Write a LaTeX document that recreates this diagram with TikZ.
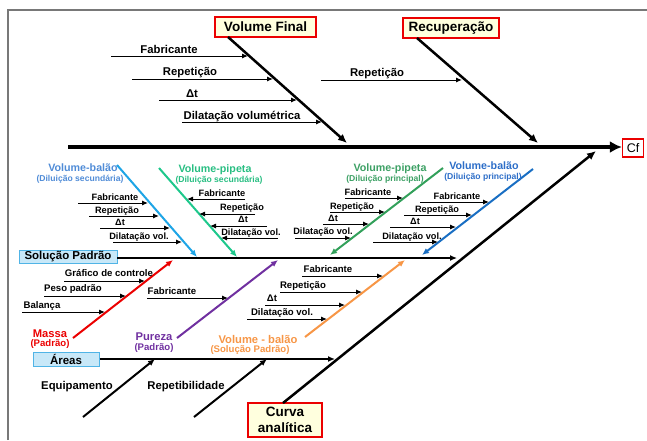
\documentclass[tikz,border=0pt]{standalone}
\usepackage{fontspec}
\setmainfont{Liberation Sans}
\usetikzlibrary{arrows.meta}
\definecolor{cred}{RGB}{235,0,0}
\definecolor{cyel}{RGB}{255,255,222}
\definecolor{cbfill}{RGB}{200,232,248}
\definecolor{cbdraw}{RGB}{80,180,230}
\definecolor{cpur}{RGB}{112,48,160}
\definecolor{corg}{RGB}{247,150,70}
\definecolor{ccyl}{RGB}{30,165,230}
\definecolor{ccyt}{RGB}{80,140,215}
\definecolor{ctel}{RGB}{30,200,140}
\definecolor{ctet}{RGB}{40,190,130}
\definecolor{cgrl}{RGB}{50,160,90}
\definecolor{cgrt}{RGB}{60,160,100}
\definecolor{cbll}{RGB}{25,110,195}
\definecolor{cblt}{RGB}{45,110,200}
\definecolor{cframe}{RGB}{120,120,120}
\tikzset{
  ybox/.style={draw=cred, line width=1.8pt, fill=cyel, font=\bfseries\fontsize{13.5}{15.5}\selectfont, inner sep=1pt, align=center},
  bbox/.style={draw=cbdraw, line width=1pt, fill=cbfill, font=\bfseries\fontsize{11.5}{13}\selectfont, inner sep=0pt},
  bone/.style={line width=2.5pt, -{Latex[length=9pt,width=8pt]}},
  cbone/.style={line width=2pt, -{Latex[length=7pt,width=6pt]}},
  twig/.style={line width=1pt, -{Latex[length=6pt,width=5pt]}},
  tlbl/.style={font=\bfseries\fontsize{11.3}{13}\selectfont, inner sep=0pt, anchor=base},
  slbl/.style={font=\bfseries\fontsize{9.6}{11}\selectfont, inner sep=0pt, anchor=base},
  dlbl/.style={font=\bfseries\fontsize{9.2}{10}\selectfont, inner sep=0pt, anchor=base},
  ctitle/.style={font=\bfseries\fontsize{11.2}{13}\selectfont, inner sep=0pt, anchor=base},
  csub/.style={font=\bfseries\fontsize{9.6}{11}\selectfont, inner sep=0pt, anchor=base},
  dtitle/.style={font=\bfseries\fontsize{10.7}{12}\selectfont, inner sep=0pt, anchor=base},
  dsub/.style={font=\bfseries\fontsize{8.6}{10}\selectfont, inner sep=0pt, anchor=base}
}
\begin{document}
\begin{tikzpicture}[x=1pt,y=-1pt]
\useasboundingbox (0,0) rectangle (647,440);
% frame
\coordinate (fr1) at (8,440); \coordinate (fr2) at (8,10); \coordinate (fr3) at (647,10);
\draw[cframe, line width=1.3pt] (fr1) -- (fr2) -- (fr3);

% main spine
\node[draw=cred, line width=1.3pt, fill=white, minimum width=21pt, minimum height=18pt, inner sep=0pt, font=\fontsize{12.5}{14}\selectfont] (cf) at (633,148) {Cf};
\coordinate (spine0) at (68,147);
\draw[line width=4pt, -{Latex[length=12pt,width=12pt]}] (spine0) -- (spine0 -| cf.west);

% Volume Final
\node[ybox, minimum width=101pt, minimum height=20pt] (vf) at (265.5,27) {Volume Final};
\coordinate (vfA) at (228,37); \coordinate (vfB) at (347,143);
\draw[bone] (vfA) -- (vfB);
\coordinate (vf1s) at (111,56);  \coordinate (vf1e) at (248,56);
\coordinate (vf2s) at (132,79);  \coordinate (vf2e) at (273,79);
\coordinate (vf3s) at (159,100); \coordinate (vf3e) at (297,100);
\coordinate (vf4s) at (182,122); \coordinate (vf4e) at (322,122);
\draw[twig] (vf1s) -- (vf1e);
\draw[twig] (vf2s) -- (vf2e);
\draw[twig] (vf3s) -- (vf3e);
\draw[twig] (vf4s) -- (vf4e);
\node[tlbl] (vfl1) at (169,53) {Fabricante};
\node[tlbl] (vfl2) at (190,75.5) {Repetição};
\node[tlbl] (vfl3) at (192,97) {Δt};
\node[tlbl] (vfl4) at (242,119) {Dilatação volumétrica};

% Recuperacao
\node[ybox, minimum width=96pt, minimum height=20pt] (rec) at (451,28) {Recuperação};
\coordinate (recA) at (417,38); \coordinate (recB) at (538,143);
\draw[bone] (recA) -- (recB);
\coordinate (rec1s) at (321,80); \coordinate (rec1e) at (462,80);
\draw[twig] (rec1s) -- (rec1e);
\node[tlbl] (recl1) at (377,76.5) {Repetição};

% Curva analitica
\node[ybox, minimum width=74pt, minimum height=34pt] (ca) at (285,420) {Curva\\analítica};
\coordinate (caA) at (283,403); \coordinate (caB) at (596,151);
\draw[bone] (caA) -- (caB);

% Solucao Padrao
\node[bbox, minimum width=98pt, minimum height=13pt] (sp) at (68,256.5) {Solução Padrão};
\coordinate (spA) at (117,258); \coordinate (spB) at (457,258);
\draw[line width=1.3pt, -{Latex[length=7pt,width=6pt]}] (spA) -- (spB);

% Areas
\node[bbox, minimum width=66pt, minimum height=14pt] (ar) at (66,359) {Áreas};
\coordinate (arB) at (335,359);
\draw[line width=2pt, -{Latex[length=7pt,width=6pt]}] (ar.east) -- (arB);
\coordinate (eqA) at (83,417); \coordinate (eqB) at (155,359);
\draw[line width=2pt, -{Latex[length=7pt,width=6pt]}] (eqA) -- (eqB);
\coordinate (reA) at (194,417); \coordinate (reB) at (267,359);
\draw[line width=2pt, -{Latex[length=7pt,width=6pt]}] (reA) -- (reB);
\node[tlbl] (eql) at (77,389) {Equipamento};
\node[tlbl] (rel) at (186,389) {Repetibilidade};

% Massa
\coordinate (maA) at (73,338); \coordinate (maB) at (173,260);
\draw[cbone, cred] (maA) -- (maB);
\node[ctitle, text=cred] (mat) at (50,337) {Massa};
\node[csub, text=cred] (mas) at (50,346) {(Padrão)};
\coordinate (ma1s) at (64,281); \coordinate (ma1e) at (145,281);
\coordinate (ma2s) at (44,296); \coordinate (ma2e) at (126,296);
\coordinate (ma3s) at (22,312); \coordinate (ma3e) at (105,312);
\draw[twig] (ma1s) -- (ma1e);
\draw[twig] (ma2s) -- (ma2e);
\draw[twig] (ma3s) -- (ma3e);
\node[slbl] (mal1) at (109,276) {Gráfico de controle};
\node[slbl] (mal2) at (73,291.5) {Peso padrão};
\node[slbl] (mal3) at (42,308) {Balança};

% Pureza
\coordinate (puA) at (177,338); \coordinate (puB) at (278,260);
\draw[cbone, cpur] (puA) -- (puB);
\node[ctitle, text=cpur] (put) at (154,340) {Pureza};
\node[csub, text=cpur] (pus) at (154,350) {(Padrão)};
\coordinate (pu1s) at (147,298); \coordinate (pu1e) at (228,298);
\draw[twig] (pu1s) -- (pu1e);
\node[slbl] (pul1) at (172,294) {Fabricante};

% Volume - balao (Solucao Padrao)
\coordinate (orA) at (305,337); \coordinate (orB) at (405,260);
\draw[cbone, corg] (orA) -- (orB);
\node[ctitle, text=corg] (ort) at (258,343) {Volume - balão};
\node[csub, text=corg] (ors) at (250,352) {(Solução Padrão)};
\coordinate (or1s) at (302,276); \coordinate (or1e) at (383,276);
\coordinate (or2s) at (280,292); \coordinate (or2e) at (362,292);
\coordinate (or3s) at (265,305); \coordinate (or3e) at (345,305);
\coordinate (or4s) at (247,319); \coordinate (or4e) at (327,319);
\draw[twig] (or1s) -- (or1e);
\draw[twig] (or2s) -- (or2e);
\draw[twig] (or3s) -- (or3e);
\draw[twig] (or4s) -- (or4e);
\node[slbl] (orl1) at (328,272) {Fabricante};
\node[slbl] (orl2) at (303,288) {Repetição};
\node[slbl] (orl3) at (272,301) {Δt};
\node[slbl] (orl4) at (282,315.5) {Dilatação vol.};

% Volume-balao (Diluicao secundaria)
\coordinate (cyA) at (117,165); \coordinate (cyB) at (197,257);
\draw[cbone, ccyl] (cyA) -- (cyB);
\node[dtitle, text=ccyt] (cyt) at (83,171.5) {Volume-balão};
\node[dsub, text=ccyt] (cys) at (80,181) {(Diluição secundária)};
\coordinate (cy1s) at (78,203);  \coordinate (cy1e) at (148,203);
\coordinate (cy2s) at (89,216);  \coordinate (cy2e) at (159,216);
\coordinate (cy3s) at (100,228); \coordinate (cy3e) at (170,228);
\coordinate (cy4s) at (113,242); \coordinate (cy4e) at (182,242);
\draw[twig] (cy1s) -- (cy1e);
\draw[twig] (cy2s) -- (cy2e);
\draw[twig] (cy3s) -- (cy3e);
\draw[twig] (cy4s) -- (cy4e);
\node[dlbl] (cyl1) at (115,200) {Fabricante};
\node[dlbl] (cyl2) at (117,213) {Repetição};
\node[dlbl] (cyl3) at (120,225) {Δt};
\node[dlbl] (cyl4) at (139,239) {Dilatação vol.};

% Volume-pipeta (Diluicao secundaria)
\coordinate (teA) at (159,168); \coordinate (teB) at (237,257);
\draw[cbone, ctel] (teA) -- (teB);
\node[dtitle, text=ctet] (tet) at (215,172.5) {Volume-pipeta};
\node[dsub, text=ctet] (tes) at (219,182) {(Diluição secundária)};
\coordinate (te1s) at (245,199); \coordinate (te1e) at (187,199);
\coordinate (te2s) at (255,214); \coordinate (te2e) at (199,214);
\coordinate (te3s) at (267,226); \coordinate (te3e) at (210,226);
\coordinate (te4s) at (278,238); \coordinate (te4e) at (221,238);
\draw[twig] (te1s) -- (te1e);
\draw[twig] (te2s) -- (te2e);
\draw[twig] (te3s) -- (te3e);
\draw[twig] (te4s) -- (te4e);
\node[dlbl] (tel1) at (222,196) {Fabricante};
\node[dlbl] (tel2) at (242,210) {Repetição};
\node[dlbl] (tel3) at (243,222.5) {Δt};
\node[dlbl] (tel4) at (251,235) {Dilatação vol.};

% Volume-pipeta (Diluicao principal)
\coordinate (grA) at (443,168); \coordinate (grB) at (330,255);
\draw[cbone, cgrl] (grA) -- (grB);
\node[dtitle, text=cgrt] (grt) at (390,171.5) {Volume-pipeta};
\node[dsub, text=cgrt] (grs) at (385,181) {(Diluição principal)};
\coordinate (gr1s) at (345,198); \coordinate (gr1e) at (403,198);
\coordinate (gr2s) at (330,212); \coordinate (gr2e) at (385,212);
\coordinate (gr3s) at (323,224); \coordinate (gr3e) at (369,224);
\coordinate (gr4s) at (295,238); \coordinate (gr4e) at (351,238);
\draw[twig] (gr1s) -- (gr1e);
\draw[twig] (gr2s) -- (gr2e);
\draw[twig] (gr3s) -- (gr3e);
\draw[twig] (gr4s) -- (gr4e);
\node[dlbl] (grl1) at (368,195) {Fabricante};
\node[dlbl] (grl2) at (352,209) {Repetição};
\node[dlbl] (grl3) at (333,221) {Δt};
\node[dlbl] (grl4) at (323,234.5) {Dilatação vol.};

% Volume-balao (Diluicao principal)
\coordinate (blA) at (533,169); \coordinate (blB) at (422,255);
\draw[cbone, cbll] (blA) -- (blB);
\node[dtitle, text=cblt] (blt) at (484,169.5) {Volume-balão};
\node[dsub, text=cblt] (bls) at (483,179) {(Diluição principal)};
\coordinate (bl1s) at (420,202); \coordinate (bl1e) at (489,202);
\coordinate (bl2s) at (404,215); \coordinate (bl2e) at (472,215);
\coordinate (bl3s) at (390,227); \coordinate (bl3e) at (456,227);
\coordinate (bl4s) at (373,242); \coordinate (bl4e) at (438,242);
\draw[twig] (bl1s) -- (bl1e);
\draw[twig] (bl2s) -- (bl2e);
\draw[twig] (bl3s) -- (bl3e);
\draw[twig] (bl4s) -- (bl4e);
\node[dlbl] (bll1) at (457,199) {Fabricante};
\node[dlbl] (bll2) at (437,212) {Repetição};
\node[dlbl] (bll3) at (415,224) {Δt};
\node[dlbl] (bll4) at (412,239) {Dilatação vol.};
\end{tikzpicture}
\end{document}
